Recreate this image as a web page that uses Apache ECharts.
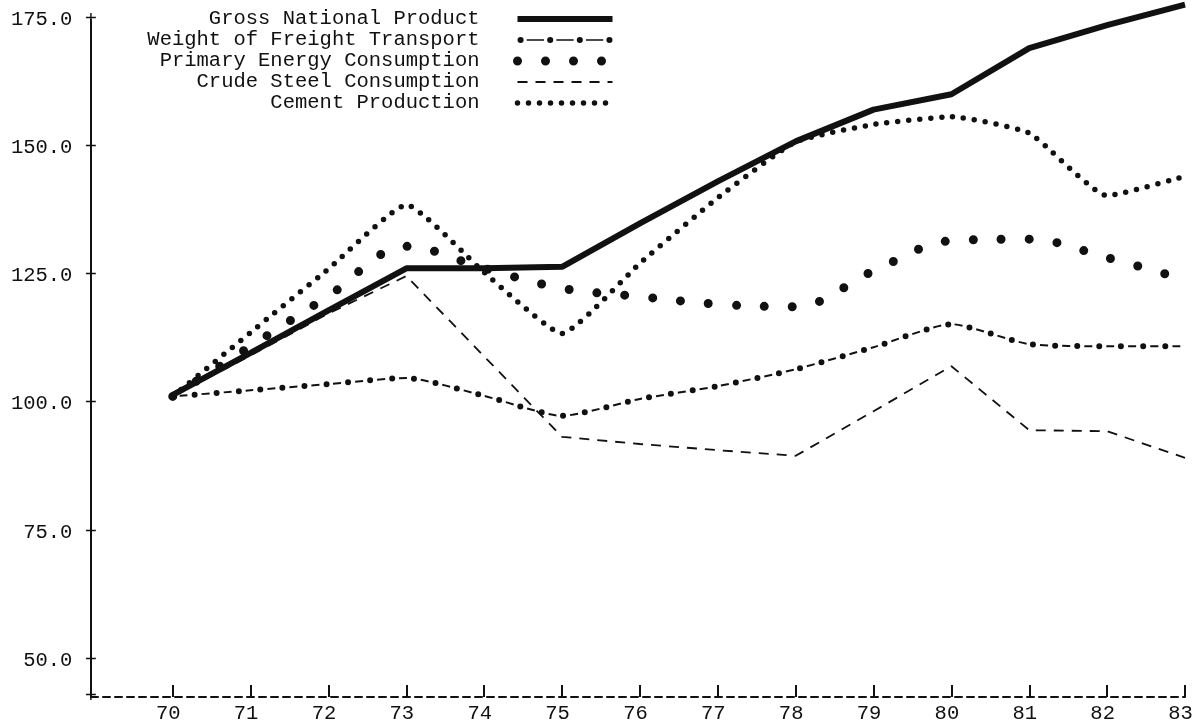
<!DOCTYPE html>
<html>
<head>
<meta charset="utf-8">
<script src="https://cdn.jsdelivr.net/npm/echarts@6/dist/echarts.min.js"></script>
<style>
  html, body { margin: 0; padding: 0; background: #fff; }
  #chart { width: 1199px; height: 728px; }
</style>
</head>
<body>
<div id="chart"></div>
<script>
// years on the x axis (19xx)
var years = [70, 71, 72, 73, 74, 75, 76, 77, 78, 79, 80, 81, 82, 83];
var yTicks = [50, 75, 100, 125, 150, 175];
var yMin = 42.8;

// index values
var gnp     = [101.8, 110.0, 118.3, 126.5, 126.5, 126.8, 135.3, 143.5, 151.3, 157.5, 160.5, 169.5, 174.0, 178.0];
var freight = [101.5, 102.7, 103.9, 105.1, 101.6, 97.7, 101.0, 103.5, 106.8, 111.1, 115.6, 111.7, 111.3, 111.3];
var energy  = [101.5, 111.3, 121.1, 130.8, 126.5, 122.6, 121.0, 119.5, 119.0, 126.0, 131.9, 132.2, 128.6, 124.3];
var steel   = [101.5, 109.5, 117.7, 125.0, 109.3, 93.6, 92.2, 91.0, 89.9, 98.6, 107.4, 94.9, 94.7, 89.5];
var cement  = [101.5, 114.0, 126.4, 138.9, 125.7, 113.8, 127.5, 140.3, 151.2, 154.6, 156.1, 152.9, 140.7, 144.5];

var names = [
    'Gross National Product',
    'Weight of Freight Transport',
    'Primary Energy Consumption',
    'Crude Steel Consumption',
    'Cement Production'
];

function pairs(vals) {
    return years.map(function (y, i) { return [y, vals[i]]; });
}

var font = 'Liberation Mono';
var ink = '#111';

// legend sample for the dot-dash line: dots with thin dashes between
var freightIcon = 'path://M0,3 A3,3 0 1,0 6,3 A3,3 0 1,0 0,3 Z M9,2.2 L26,2.2 L26,3.8 L9,3.8 Z' +
    ' M29,3 A3,3 0 1,0 35,3 A3,3 0 1,0 29,3 Z M38,2.2 L55,2.2 L55,3.8 L38,3.8 Z' +
    ' M58,3 A3,3 0 1,0 64,3 A3,3 0 1,0 58,3 Z M67,2.2 L84,2.2 L84,3.8 L67,3.8 Z' +
    ' M87,3 A3,3 0 1,0 93,3 A3,3 0 1,0 87,3 Z';

var chart = echarts.init(document.getElementById('chart'));

var option = {
    animation: false,
    backgroundColor: '#fff',
    grid: { left: 91, right: 14, top: 20, bottom: 31, containLabel: false, outerBoundsMode: 'none' },
    legend: {
        data: [
            names[0],
            { name: names[1], icon: freightIcon, itemStyle: { opacity: 1, color: ink, borderWidth: 0 } },
            names[2],
            names[3],
            names[4]
        ],
        orient: 'vertical',
        align: 'right',
        right: 582,
        top: 8.5,
        padding: 0,
        itemGap: 0,
        itemWidth: 95,
        itemHeight: 10,
        selectedMode: false,
        textStyle: { fontFamily: font, fontSize: 20.5, color: ink, lineHeight: 21, padding: [0, 33, 0, 0] },
        lineStyle: { width: 'inherit' },
        itemStyle: { opacity: 0 }
    },
    xAxis: {
        type: 'value',
        min: 68.95,
        max: 83,
        splitLine: { show: false },
        axisLine: { lineStyle: { color: ink, width: 2, type: [7, 5] } },
        axisTick: { inside: true, length: 12, customValues: years, lineStyle: { color: ink, width: 2 } },
        axisLabel: {
            customValues: years,
            margin: 6,
            padding: [0, 9, 0, 0],
            fontFamily: font, fontSize: 20.5, color: ink
        }
    },
    // the tick marks are printed "+" signs sitting on the axis, as in the original print-out
    yAxis: {
        type: 'value',
        min: yMin,
        max: 175,
        splitLine: { show: false },
        axisLine: { show: true, lineStyle: { color: ink, width: 2 } },
        axisTick: { show: false },
        axisLabel: {
            customValues: [yMin].concat(yTicks),
            margin: -6,
            fontFamily: font, fontSize: 20.5, color: ink,
            formatter: function (v) { return v === yMin ? '+' : v.toFixed(1) + ' +'; }
        }
    },
    series: [
        {
            name: names[1], type: 'line', data: pairs(freight), smooth: 0.2,
            symbol: 'none', clip: false,
            lineStyle: { color: ink, width: 6, type: [0, 22], cap: 'round' }
        },
        {
            name: names[1], type: 'line', data: pairs(freight), smooth: 0.2,
            symbol: 'none', clip: false,
            lineStyle: { color: ink, width: 2, type: [8, 14], dashOffset: -7 }
        },
        {
            name: names[2], type: 'line', data: pairs(energy), smooth: 0.35,
            symbol: 'none', clip: false,
            lineStyle: { color: ink, width: 9, type: [0, 28], cap: 'round' }
        },
        {
            name: names[3], type: 'line', data: pairs(steel),
            symbol: 'none', clip: false,
            lineStyle: { color: ink, width: 1.8, type: [10, 8] }
        },
        {
            name: names[4], type: 'line', data: pairs(cement), smooth: 0.15,
            symbol: 'none', clip: false,
            lineStyle: { color: ink, width: 5.5, type: [0, 11], cap: 'round' }
        },
        {
            name: names[0], type: 'line', data: pairs(gnp),
            symbol: 'none', clip: false,
            lineStyle: { color: ink, width: 6 }
        }
    ]
};

chart.setOption(option);
</script>
</body>
</html>
